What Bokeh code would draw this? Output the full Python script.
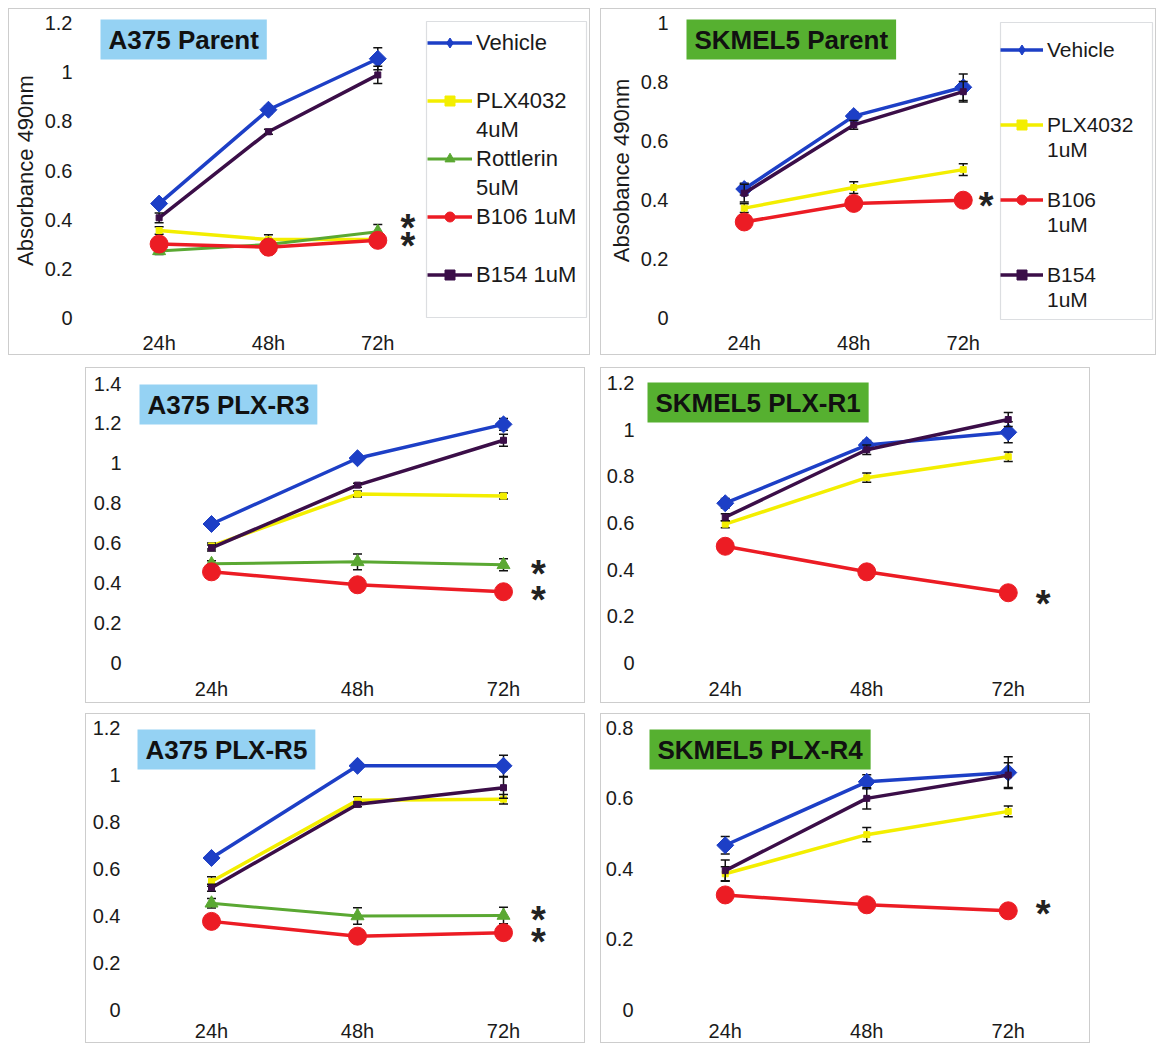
import math
from bokeh.plotting import figure
from bokeh.layouts import column, row
from bokeh.models import (Legend, LegendItem, Label, FixedTicker, PolyAnnotation,
                          CustomJSTickFormatter, Range1d, Spacer)
from bokeh.embed import file_html
from bokeh.resources import INLINE
from bokeh.core.properties import value

FONT = "Liberation Sans"

TIMES = ["24h", "48h", "72h"]

TITLES = ["A375 Parent", "SKMEL5 Parent", "A375 PLX-R3",
          "SKMEL5 PLX-R1", "A375 PLX-R5", "SKMEL5 PLX-R4"]
Y_MAX = [1.2, 1.0, 1.4, 1.2, 1.2, 0.8]
Y_LABELS = ["Absorbance 490nm", "Absobance 490nm", None, None, None, None]

# ---- A375 Parent ----
A_PAR_VEH = [0.465, 0.848, 1.056]
A_PAR_VEH_ERR = [0.015, 0.015, 0.045]
A_PAR_PLX = [0.355, 0.318, 0.318]
A_PAR_PLX_ERR = [0.015, 0.02, 0.02]
A_PAR_ROT = [0.272, 0.298, 0.350]
A_PAR_ROT_ERR = [0.015, 0.02, 0.03]
A_PAR_B106 = [0.300, 0.287, 0.315]
A_PAR_B106_ERR = [0.02, 0.03, 0.015]
A_PAR_B154 = [0.407, 0.758, 0.990]
A_PAR_B154_ERR = [0.02, 0.01, 0.035]
A_PAR_STARS = [0.389, 0.316]

# ---- SKMEL5 Parent ----
S_PAR_VEH = [0.437, 0.685, 0.783]
S_PAR_VEH_ERR = [0.02, 0.015, 0.045]
S_PAR_PLX = [0.372, 0.442, 0.503]
S_PAR_PLX_ERR = [0.015, 0.02, 0.02]
S_PAR_B106 = [0.325, 0.388, 0.399]
S_PAR_B106_ERR = [0.01, 0.01, 0.01]
S_PAR_B154 = [0.423, 0.655, 0.768]
S_PAR_B154_ERR = [0.03, 0.015, 0.035]
S_PAR_STARS = [0.399]

# ---- A375 PLX-R3 ----
A_R3_VEH = [0.695, 1.025, 1.195]
A_R3_VEH_ERR = [0.015, 0.015, 0.03]
A_R3_PLX = [0.585, 0.845, 0.835]
A_R3_PLX_ERR = [0.015, 0.015, 0.015]
A_R3_ROT = [0.495, 0.505, 0.490]
A_R3_ROT_ERR = [0.015, 0.04, 0.03]
A_R3_B106 = [0.455, 0.390, 0.355]
A_R3_B106_ERR = [0.01, 0.01, 0.01]
A_R3_B154 = [0.575, 0.890, 1.115]
A_R3_B154_ERR = [0.015, 0.01, 0.03]
A_R3_STARS = [0.475, 0.345]

# ---- SKMEL5 PLX-R1 ----
S_R1_VEH = [0.685, 0.935, 0.990]
S_R1_VEH_ERR = [0.02, 0.02, 0.045]
S_R1_PLX = [0.595, 0.795, 0.885]
S_R1_PLX_ERR = [0.015, 0.02, 0.02]
S_R1_B106 = [0.500, 0.390, 0.300]
S_R1_B106_ERR = [0.01, 0.01, 0.01]
S_R1_B154 = [0.625, 0.915, 1.045]
S_R1_B154_ERR = [0.015, 0.02, 0.03]
S_R1_STARS = [0.279]

# ---- A375 PLX-R5 ----
A_R5_VEH = [0.645, 1.037, 1.037]
A_R5_VEH_ERR = [0.015, 0.015, 0.045]
A_R5_PLX = [0.545, 0.890, 0.895]
A_R5_PLX_ERR = [0.02, 0.015, 0.02]
A_R5_ROT = [0.452, 0.398, 0.400]
A_R5_ROT_ERR = [0.02, 0.035, 0.035]
A_R5_B106 = [0.375, 0.312, 0.327]
A_R5_B106_ERR = [0.01, 0.01, 0.01]
A_R5_B154 = [0.518, 0.873, 0.944]
A_R5_B154_ERR = [0.015, 0.01, 0.045]
A_R5_STARS = [0.406, 0.312]

# ---- SKMEL5 PLX-R4 ----
S_R4_VEH = [0.466, 0.646, 0.672]
S_R4_VEH_ERR = [0.025, 0.02, 0.045]
S_R4_PLX = [0.385, 0.496, 0.562]
S_R4_PLX_ERR = [0.02, 0.02, 0.015]
S_R4_B106 = [0.325, 0.297, 0.280]
S_R4_B106_ERR = [0.01, 0.01, 0.01]
S_R4_B154 = [0.394, 0.599, 0.665]
S_R4_B154_ERR = [0.03, 0.03, 0.035]
S_R4_STARS = [0.287]

# legend rows (label, series key); None key = text continuation / blank row
LEGEND_A = [("Vehicle", "veh"), ("", None), ("PLX4032", "plx"), ("4uM", None),
            ("Rottlerin", "rot"), ("5uM", None), ("B106 1uM", "b106"), ("", None),
            ("B154 1uM", "b154"), ("", None)]
LEGEND_B = [("Vehicle", "veh"), ("", None), ("", None), ("PLX4032", "plx"), ("1uM", None),
            ("", None), ("B106", "b106"), ("1uM", None), ("", None), ("B154", "b154"), ("1uM", None)]

# ---- styles ----
STYLE = {
    "veh": dict(color="#1d3fc6", marker="square", size=12, angle=math.pi / 4, lw=3.5,
                leg_marker="diamond"),
    "plx": dict(color="#f3ee00", marker="square", size=6, angle=0, lw=3.5, leg_marker=None),
    "rot": dict(color="#5aa832", marker="triangle", size=13, angle=0, lw=3,
                leg_marker=None),
    "b106": dict(color="#ec1c24", marker="circle", size=18, angle=0, lw=3.5,
                 leg_marker=None),
    "b154": dict(color="#3b0e48", marker="square", size=6, angle=0, lw=3.5, leg_marker=None),
}
BLUE_BG = "#95d2f3"
GREEN_BG = "#56b030"
SERIES_ORDER = ["veh", "plx", "rot", "b106", "b154"]
PL, PT, PB = 8, 6, 6   # extra frame room so annotations near the plot area are not clipped


def make_panel(title, bg, data, stars, ymax, ylabel, g, legend_rows=None, lg=None):
    ppx = (g["w"] - g["L"] - g["R"]) / (g["xend"] - 0.5)
    ppy = (g["h"] - g["T"] - g["B"]) / ymax
    p = figure(width=g["w"], height=g["h"],
               x_range=Range1d(0.5 - PL / ppx, g["xend"]),
               y_range=Range1d(-PB / ppy, ymax + PT / ppy),
               output_backend="svg", toolbar_location=None,
               min_border_left=g["L"] - PL, min_border_right=g["R"],
               min_border_top=g["T"] - PT, min_border_bottom=g["B"] - PB,
               background_fill_color="white", border_fill_color="white",
               outline_line_color=None)
    p.styles = {"border": "1px solid #cdcdcd"}
    p.xgrid.visible = False
    p.ygrid.visible = False
    xs = list(range(1, len(TIMES) + 1))
    nt = int(round(ymax / 0.2))
    for ax in (p.xaxis[0], p.yaxis[0]):
        ax.axis_line_color = None
        ax.major_tick_line_color = None
        ax.minor_tick_line_color = None
        ax.major_tick_out = 0
        ax.major_tick_in = 0
        ax.minor_tick_out = 0
        ax.major_label_text_font = FONT
        ax.major_label_text_font_size = "20px"
        ax.major_label_text_color = "#1a1a1a"
    p.yaxis.ticker = FixedTicker(ticks=[round(i * 0.2, 1) for i in range(nt + 1)])
    p.yaxis.formatter = CustomJSTickFormatter(code="return String(Number(tick.toFixed(1)));")
    p.yaxis.major_label_standoff = g["ys"] - PL
    p.xaxis.ticker = FixedTicker(ticks=xs)
    p.xaxis.major_label_overrides = {x: t for x, t in zip(xs, TIMES)}
    p.xaxis.major_label_standoff = g["xs"] - PB
    if ylabel:
        p.yaxis.axis_label = ylabel
        p.yaxis.axis_label_standoff = 4
        p.yaxis.axis_label_text_font = FONT
        p.yaxis.axis_label_text_font_style = "normal"
        p.yaxis.axis_label_text_font_size = "22px"
        p.yaxis.axis_label_text_color = "#1a1a1a"

    rends = {}
    for key in SERIES_ORDER:
        if key not in data:
            continue
        vals, errs = data[key]
        st = STYLE[key]
        lr = p.line(xs, vals, line_color=st["color"], line_width=st["lw"])
        lo = [v - e for v, e in zip(vals, errs)]
        hi = [v + e for v, e in zip(vals, errs)]
        p.segment(x0=xs, y0=lo, x1=xs, y1=hi, line_color="#111111", line_width=1.5)
        p.scatter(xs, hi, marker="dash", size=9, line_color="#111111", line_width=1.5)
        p.scatter(xs, lo, marker="dash", size=9, line_color="#111111", line_width=1.5)
        leg = [lr]
        if st["leg_marker"]:
            # legend-shaped marker, covered by the rotated square drawn on top
            leg.append(p.scatter(xs, vals, marker=st["leg_marker"], size=14,
                                 fill_color=st["color"], line_color=st["color"]))
        mr = p.scatter(xs, vals, marker=st["marker"], size=st["size"], angle=st["angle"],
                       fill_color=st["color"], line_color=st["color"])
        if not st["leg_marker"]:
            leg.append(mr)
        rends[key] = leg

    p.text(x=[xs[-1]] * len(stars), y=stars, text=["*"] * len(stars),
           x_offset=g["sx"], y_offset=6, text_font=value(FONT), text_font_size="38px",
           text_font_style="bold", text_baseline="middle", text_align="center",
           text_color="#222222")

    lab = Label(x=g["lx"] + PL, y=g["ly"] + PB, x_units="screen", y_units="screen",
                text=title, text_font=FONT, text_font_size="26px", text_font_style="bold",
                text_color="#111111", text_align="left", text_baseline="top",
                background_fill_color=bg,
                padding=dict(left=8, right=8, top=5, bottom=5))
    p.add_layout(lab)

    if legend_rows:
        items = []
        for text, key in legend_rows:
            if key is None:
                dummy = p.line(x=[], y=[], line_alpha=0)
                items.append(LegendItem(label=text, renderers=[dummy]))
            else:
                items.append(LegendItem(label=text, renderers=rends[key]))
        bx0, bx1, by0, by1 = lg["box"]
        bx = [bx0 + PL, bx1 + PL, bx1 + PL, bx0 + PL]
        by = [by0 + PB, by0 + PB, by1 + PB, by1 + PB]
        p.add_layout(PolyAnnotation(xs=bx, ys=by, xs_units="screen", ys_units="screen",
                                    line_color="#8a929c", line_width=1.2,
                                    fill_color="white", fill_alpha=1.0))
        lx, ly = lg["loc"]
        leg = Legend(items=items, location=(lx + PL, ly + PB), padding=lg["pad"], spacing=0,
                     margin=0, label_height=lg["lh"], glyph_height=25,
                     glyph_width=lg["gw"], label_standoff=4,
                     label_text_font=FONT, label_text_font_size=lg["fs"],
                     label_text_color="#1a1a1a", border_line_color=None,
                     background_fill_alpha=0)
        p.add_layout(leg)
    return p


G_A = dict(w=582, h=347, L=92, R=3, T=14, B=37, xend=0.5 + 487 / 110, ys=32, xs=14,
           sx=30, lx=-4, ly=298)
G_B = dict(w=556, h=347, L=88, R=1, T=14, B=37, xend=0.5 + 467 / 109.5, ys=21, xs=14,
           sx=23, lx=-3, ly=298)
G_C = dict(w=500, h=336, L=52, R=10, T=15, B=42, xend=3.5, ys=17, xs=15,
           sx=35, lx=1, ly=278)
G_D = dict(w=490, h=336, L=53, R=10, T=14, B=42, xend=0.5 + 427 / 141.5, ys=20, xs=15,
           sx=35, lx=-7, ly=280)
G_E = dict(w=500, h=330, L=52, R=10, T=13, B=35, xend=3.5, ys=18, xs=10,
           sx=35, lx=-1, ly=280)
G_F = dict(w=490, h=330, L=53, R=10, T=13, B=35, xend=0.5 + 427 / 141.5, ys=21, xs=10,
           sx=35, lx=-5, ly=280)

pA = make_panel(TITLES[0], BLUE_BG,
                {"veh": (A_PAR_VEH, A_PAR_VEH_ERR), "plx": (A_PAR_PLX, A_PAR_PLX_ERR),
                 "rot": (A_PAR_ROT, A_PAR_ROT_ERR), "b106": (A_PAR_B106, A_PAR_B106_ERR),
                 "b154": (A_PAR_B154, A_PAR_B154_ERR)},
                A_PAR_STARS, Y_MAX[0], Y_LABELS[0], G_A, LEGEND_A,
                dict(loc=(323, -1), pad=4, lh=29, gw=45, fs="22px",
                     box=(322, 482, 0, 296)))
pB = make_panel(TITLES[1], GREEN_BG,
                {"veh": (S_PAR_VEH, S_PAR_VEH_ERR), "plx": (S_PAR_PLX, S_PAR_PLX_ERR),
                 "b106": (S_PAR_B106, S_PAR_B106_ERR), "b154": (S_PAR_B154, S_PAR_B154_ERR)},
                S_PAR_STARS, Y_MAX[1], Y_LABELS[1], G_B, LEGEND_B,
                dict(loc=(311, 5), pad=9, lh=25, gw=43, fs="21px",
                     box=(311, 463, -2, 295)))
pC = make_panel(TITLES[2], BLUE_BG,
                {"veh": (A_R3_VEH, A_R3_VEH_ERR), "plx": (A_R3_PLX, A_R3_PLX_ERR),
                 "rot": (A_R3_ROT, A_R3_ROT_ERR), "b106": (A_R3_B106, A_R3_B106_ERR),
                 "b154": (A_R3_B154, A_R3_B154_ERR)},
                A_R3_STARS, Y_MAX[2], Y_LABELS[2], G_C)
pD = make_panel(TITLES[3], GREEN_BG,
                {"veh": (S_R1_VEH, S_R1_VEH_ERR), "plx": (S_R1_PLX, S_R1_PLX_ERR),
                 "b106": (S_R1_B106, S_R1_B106_ERR), "b154": (S_R1_B154, S_R1_B154_ERR)},
                S_R1_STARS, Y_MAX[3], Y_LABELS[3], G_D)
pE = make_panel(TITLES[4], BLUE_BG,
                {"veh": (A_R5_VEH, A_R5_VEH_ERR), "plx": (A_R5_PLX, A_R5_PLX_ERR),
                 "rot": (A_R5_ROT, A_R5_ROT_ERR), "b106": (A_R5_B106, A_R5_B106_ERR),
                 "b154": (A_R5_B154, A_R5_B154_ERR)},
                A_R5_STARS, Y_MAX[4], Y_LABELS[4], G_E)
pF = make_panel(TITLES[5], GREEN_BG,
                {"veh": (S_R4_VEH, S_R4_VEH_ERR), "plx": (S_R4_PLX, S_R4_PLX_ERR),
                 "b106": (S_R4_B106, S_R4_B106_ERR), "b154": (S_R4_B154, S_R4_B154_ERR)},
                S_R4_STARS, Y_MAX[5], Y_LABELS[5], G_F)

grid = column(
    row(pA, Spacer(width=10), pB),
    Spacer(height=12),
    row(Spacer(width=77), pC, Spacer(width=15), pD),
    Spacer(height=10),
    row(Spacer(width=77), pE, Spacer(width=15), pF),
)
layout = column(Spacer(height=8), row(Spacer(width=8), grid))

open("out.html", "w").write(file_html(layout, INLINE))
